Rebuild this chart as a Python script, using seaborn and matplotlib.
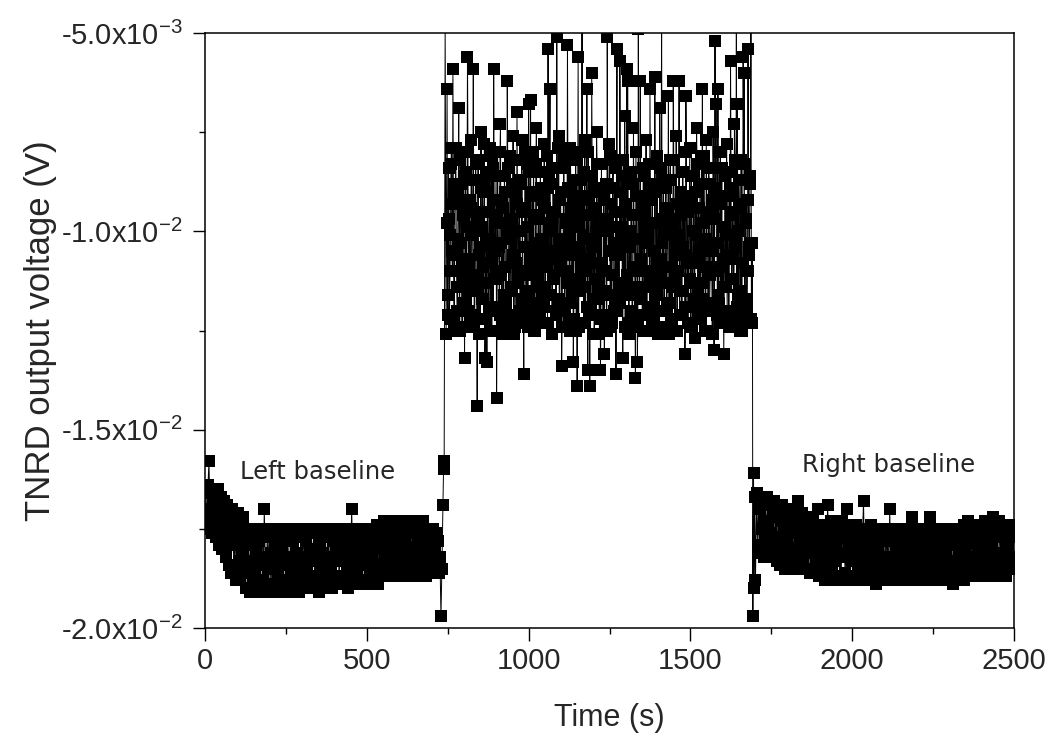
import numpy as np
import pandas as pd
import matplotlib
matplotlib.use("Agg")
import matplotlib.pyplot as plt
import seaborn as sns

# ---------------- data (voltages in mV, converted to V below) ----------------
# Left baseline, sampled every 3 s from 0 s to 726 s
left_t0, left_dt = 0, 3
left_mv = [
    -17.2, -16.6, -17.5, -16.4, -15.8, -17.0, -16.5, -17.6, -16.8, -17.3,
    -16.6, -17.7, -17.0, -16.5, -17.9, -17.2, -16.7, -18.0, -17.4, -16.8,
    -17.8, -17.1, -18.2, -16.9, -17.6, -18.4, -17.2, -18.6, -17.0, -17.9,
    -18.5, -17.3, -18.8, -17.6, -17.1, -18.3, -18.7, -17.5, -18.1, -17.2,
    -18.6, -17.8, -19.0, -17.5, -18.4, -17.9, -19.1, -17.6, -18.3, -18.9,
    -17.5, -18.7, -18.1, -19.0, -17.6, -18.4, -17.8, -19.1, -18.2, -17.5,
    -18.8, -17.0, -18.3, -19.0, -17.7, -18.5, -17.5, -18.9, -18.1, -19.1,
    -17.6, -18.4, -17.9, -19.0, -17.5, -18.7, -18.2, -17.6, -19.1, -18.0,
    -17.8, -18.9, -17.5, -18.4, -19.1, -17.7, -18.2, -18.8, -17.5, -18.6,
    -19.0, -17.8, -18.3, -17.5, -18.9, -18.1, -17.6, -19.1, -18.4, -17.7,
    -18.7, -17.5, -18.2, -19.0, -17.8, -18.5, -17.6, -18.9, -18.1, -17.5,
    -18.8, -18.0, -17.6, -19.0, -18.3, -17.5, -18.7, -19.1, -17.8, -18.4,
    -17.6, -18.9, -18.1, -17.5, -18.6, -19.0, -17.7, -18.3, -18.8, -17.5,
    -18.5, -19.0, -17.8, -18.2, -17.5, -18.9, -18.0, -17.6, -18.7, -18.3,
    -17.5, -18.8, -18.1, -17.7, -18.9, -17.5, -18.4, -19.0, -17.8, -18.2,
    -18.6, -17.0, -18.0, -17.5, -18.9, -18.3, -17.6, -18.7, -18.1, -17.5,
    -18.9, -17.8, -18.4, -17.5, -18.8, -18.0, -17.6, -18.9, -18.2, -17.5,
    -18.6, -17.9, -18.3, -17.5, -18.8, -17.7, -18.4, -17.4, -18.9, -18.0,
    -17.4, -18.5, -17.9, -18.7, -17.3, -18.2, -17.6, -18.6, -17.8, -18.4,
    -17.3, -18.7, -18.0, -17.5, -18.5, -17.4, -18.2, -18.7, -17.6, -18.1,
    -17.3, -18.6, -17.8, -18.3, -17.4, -18.7, -17.9, -17.3, -18.5, -18.0,
    -17.5, -18.7, -17.6, -18.2, -17.3, -18.6, -18.0, -17.5, -18.4, -17.7,
    -18.7, -17.4, -18.1, -17.6, -18.6, -17.3, -18.3, -17.9, -18.7, -17.5,
    -18.2, -17.6, -18.6, -17.7, -18.4, -17.5, -18.5, -18.0, -17.6, -18.3,
    -17.8, -18.6, -18.2,
]

# Switch-on transition
on_t = [729, 732, 735, 737, 739, 742]
on_mv = [-19.7, -18.5, -16.9, -16.0, -15.8, -4.8]

# Active period, readings at 745 s + 3 s steps ...
active_t0, active_dt = 745, 3
active_mv = [
    -12.6, -6.4, -12.1, -9.7, -11.0, -8.3, -10.5, -5.9, -12.3, -9.1,
    -7.9, -11.4, -10.2, -6.9, -12.5, -8.8, -10.9, -9.4, -11.8, -13.2,
    -8.5, -10.7, -5.6, -12.0, -9.2, -11.3, -7.7, -10.1, -5.9, -12.4,
    -9.5, -11.1, -14.4, -8.2, -10.6, -12.2, -7.5, -9.9, -11.7, -8.7,
    -13.2, -10.3, -13.3, -9.0, -11.9, -7.9, -10.8, -12.5, -8.4, -5.9,
    -11.2, -9.6, -14.2, -8.0, -10.4, -12.1, -7.3, -11.0, -9.3, -12.6,
    -8.6, -10.9, -11.6, -6.2, -9.8, -12.3, -8.1, -10.2, -11.5, -7.6,
    -10.7, -12.4, -9.1, -7.0, -11.3, -8.8, -12.0, -10.0, -7.7, -11.8,
    -13.6, -9.4, -11.1, -8.3, -12.2, -6.8, -10.6, -6.7, -11.9, -9.0,
    -8.0, -12.5, -10.3, -7.4, -11.4, -9.7, -12.1, -8.5, -10.9, -11.7,
    -9.2, -7.8, -12.3, -10.5, -8.9, -5.4, -11.6, -6.4, -10.0, -12.6,
    -8.4, -11.2, -9.5, -12.0, -5.1, -10.7, -7.6, -11.8, -9.0, -13.4,
    -10.2, -8.1, -12.4, -9.8, -11.0, -5.3, -10.6, -12.2, -7.9, -9.4,
    -11.5, -13.3, -8.7, -10.4, -12.5, -13.9, -5.6, -9.6, -11.2, -8.0,
    -4.8, -10.1, -12.3, -7.7, -11.0, -6.4, -13.5, -9.2, -13.9, -10.8,
    -6.0, -11.7, -8.9, -12.1, -10.3, -7.5, -11.4, -9.0, -12.6, -13.5,
    -8.3, -10.9, -12.2, -13.1, -9.7, -11.5, -5.1, -10.0, -7.8, -12.4,
    -9.3, -11.1, -8.2, -12.0, -10.6, -13.6, -5.4, -9.9, -11.8, -5.7,
    -10.4, -8.6, -13.2, -11.3, -7.1, -9.5, -5.9, -6.2, -12.3, -10.0,
    -11.6, -8.8, -12.4, -7.4, -10.2, -13.7, -9.1, -13.3, -4.9, -11.0,
    -6.2, -10.8, -12.1, -8.4, -11.4, -9.6, -7.7, -12.5, -10.3, -8.9,
    -6.4, -11.9, -9.2, -12.2, -10.5, -6.1, -11.1, -8.3, -12.6, -9.8,
    -6.9, -10.7, -4.8, -12.0, -8.7, -11.3, -9.4, -12.4, -10.1, -6.6,
    -11.8, -8.2, -10.9, -12.3, -6.2, -9.7, -11.2, -7.6, -12.5, -10.4,
    -6.2, -11.5, -9.0, -12.1, -8.5, -10.6, -13.1, -6.6, -11.9, -9.5,
    -10.8, -7.9, -12.4, -9.2, -11.3, -8.6, -12.7, -10.1, -7.4, -11.6,
    -9.4, -12.2, -10.5, -8.1, -6.4, -11.7, -9.8, -12.5, -7.7, -10.9,
    -12.0, -8.8, -11.1, -9.6, -12.6, -7.5, -13.0, -5.2, -6.8, -10.3,
    -6.4, -11.8, -9.1, -12.3, -8.4, -10.7, -13.1, -9.9, -11.4, -7.8,
    -10.6, -12.4, -8.9, -5.7, -11.2, -9.5, -12.1, -7.3, -10.2, -4.8,
    -6.8, -11.6, -9.3, -12.5, -8.2, -10.8, -5.6, -6.0, -11.9, -9.7,
    -12.2, -5.4, -10.4, -8.6, -4.8, -12.3,
]
# ... and the readings in between, at 746.5 s + 3 s steps
active_mid_t0, active_mid_dt = 746.5, 3
active_mid_mv = [
    -9.8, -11.6, -8.4, -12.2, -10.1, -7.9, -11.0, -9.3, -12.5, -8.8,
    -10.6, -12.0, -9.1, -11.4, -8.2, -10.3, -12.4, -9.6, -11.1, -8.6,
    -11.8, -9.9, -8.0, -10.8, -12.3, -9.4, -11.5, -8.7, -10.0, -12.1,
    -8.3, -11.2, -9.7, -12.6, -10.4, -8.9, -11.7, -9.0, -10.9, -7.8,
    -12.2, -10.2, -8.5, -11.3, -9.5, -12.5, -8.1, -10.7, -11.9, -9.2,
    -10.5, -8.6, -12.0, -9.8, -11.1, -8.0, -10.3, -12.4, -9.4, -11.6,
    -9.0, -11.9, -10.1, -8.4, -12.2, -9.7, -11.4, -8.8, -10.6, -12.6,
    -8.2, -10.8, -12.1, -9.3, -11.0, -8.7, -12.3, -10.0, -9.5, -11.7,
    -10.4, -8.0, -11.5, -9.9, -12.4, -8.5, -10.9, -11.8, -9.1, -12.0,
    -9.6, -12.5, -8.3, -10.6, -11.2, -9.0, -12.2, -8.9, -10.2, -11.4,
    -11.9, -9.4, -10.7, -8.1, -12.3, -10.0, -8.6, -11.6, -9.8, -12.6,
    -8.8, -11.1, -9.5, -12.1, -10.5, -7.9, -11.7, -9.2, -10.8, -12.4,
    -10.3, -8.4, -12.0, -9.7, -11.3, -8.9, -10.1, -12.5, -9.0, -11.8,
    -9.3, -12.2, -10.6, -8.2, -11.5, -9.9, -12.4, -8.7, -10.9, -11.0,
    -11.4, -9.1, -8.5, -12.3, -10.2, -11.9, -8.0, -10.7, -9.6, -12.0,
    -8.6, -10.4, -12.6, -9.4, -11.2, -8.3, -10.0, -11.7, -9.8, -12.2,
    -10.8, -12.1, -9.2, -11.0, -8.8, -12.5, -9.7, -10.5, -8.1, -11.6,
    -12.3, -8.9, -10.3, -11.8, -9.5, -8.4, -12.0, -10.6, -11.3, -9.0,
    -9.9, -11.5, -8.2, -10.1, -12.4, -9.3, -11.1, -8.7, -12.6, -10.4,
    -8.5, -12.0, -10.9, -9.6, -11.4, -8.0, -10.2, -12.2, -9.1, -11.7,
    -10.7, -9.4, -12.5, -8.6, -11.0, -9.8, -12.1, -10.0, -8.3, -11.9,
    -9.2, -11.3, -8.8, -12.3, -10.5, -9.0, -11.6, -8.1, -10.8, -12.4,
    -11.1, -8.4, -10.3, -9.7, -12.0, -10.9, -8.9, -11.8, -9.5, -12.6,
    -8.7, -12.2, -9.9, -11.4, -8.2, -10.6, -12.5, -9.3, -11.0, -10.1,
    -12.1, -9.6, -11.5, -8.5, -10.4, -9.1, -11.9, -8.0, -10.7, -12.3,
    -9.4, -11.2, -8.6, -12.4, -10.0, -11.7, -9.0, -10.8, -8.3, -12.0,
    -10.6, -8.8, -12.2, -9.8, -11.3, -8.1, -10.2, -12.5, -9.5, -11.1,
    -8.4, -11.8, -10.5, -9.2, -12.6, -8.9, -11.0, -9.7, -10.3, -12.1,
    -11.6, -9.3, -8.0, -10.9, -12.3, -9.9, -11.4, -8.6, -10.1, -12.0,
    -9.1, -12.4, -10.7, -8.5, -11.2, -9.6, -12.2, -8.2, -10.4, -11.9,
    -10.0, -8.7, -11.5, -9.4, -12.5, -10.8, -8.3, -11.7, -9.8, -12.1,
    -11.0, -9.2, -10.6, -8.8, -12.2, -10.3,
]

# Switch-off transition
off_t = [1693, 1695, 1697, 1699, 1701]
off_mv = [-19.7, -16.1, -19.0, -16.7, -18.8]

# Right baseline, sampled every 3 s from 1705 s to 2497 s
right_t0, right_dt = 1705, 3
right_mv = [
    -16.6, -17.9, -17.0, -18.1, -16.8, -17.5, -16.7, -18.2, -17.3, -16.9,
    -17.8, -16.7, -17.4, -18.2, -16.9, -17.6, -18.0, -17.1, -16.8, -17.9,
    -17.2, -18.3, -17.0, -17.7, -18.4, -17.3, -16.9, -18.1, -17.5, -18.5,
    -17.1, -17.8, -18.4, -17.3, -18.0, -17.0, -18.5, -17.6, -18.2, -17.4,
    -18.3, -17.5, -18.0, -16.8, -17.3, -18.5, -17.7, -17.1, -18.4, -17.6,
    -17.9, -18.5, -17.2, -18.1, -17.6, -18.6, -17.4, -18.0, -17.3, -18.6,
    -17.8, -18.3, -17.5, -17.0, -18.7, -17.9, -17.4, -18.5, -18.0, -17.6,
    -18.8, -17.4, -18.2, -16.9, -17.7, -18.6, -17.3, -18.4, -17.9, -18.7,
    -17.5, -18.3, -17.8, -18.8, -17.4, -18.1, -17.6, -18.7, -17.3, -18.2,
    -17.7, -18.6, -18.1, -17.0, -17.5, -18.8, -17.9, -17.4, -18.3, -18.7,
    -17.6, -18.2, -17.4, -18.8, -17.9, -18.4, -17.5, -18.7, -18.0, -17.6,
    -16.8, -18.3, -17.7, -18.8, -17.5, -18.2, -17.9, -18.6, -17.4, -18.4,
    -17.8, -18.7, -17.5, -18.9, -18.1, -17.6, -18.5, -17.8, -18.8, -17.5,
    -18.3, -17.7, -18.7, -17.5, -18.2, -17.8, -18.6, -17.0, -18.4, -17.6,
    -18.8, -17.6, -18.2, -17.9, -18.6, -17.5, -18.4, -18.8, -17.7, -18.1,
    -17.5, -18.7, -18.0, -17.6, -18.5, -17.8, -18.8, -17.5, -18.3, -17.9,
    -17.2, -18.4, -17.7, -18.8, -18.0, -17.5, -18.6, -17.9, -18.3, -17.6,
    -18.7, -17.8, -18.2, -17.5, -18.8, -18.0, -17.6, -18.5, -17.9, -17.2,
    -18.4, -17.7, -18.8, -17.5, -18.2, -17.9, -18.6, -17.6, -18.4, -18.8,
    -17.6, -18.3, -17.9, -18.7, -17.5, -18.1, -18.8, -17.7, -18.4, -17.5,
    -18.6, -17.8, -18.9, -17.6, -18.3, -17.9, -18.7, -17.5, -18.2, -18.6,
    -17.6, -18.4, -17.9, -18.8, -17.4, -18.1, -17.7, -18.6, -17.3, -18.3,
    -18.7, -17.6, -18.2, -17.4, -18.5, -17.8, -18.7, -17.5, -18.1, -17.9,
    -18.6, -17.4, -18.3, -17.7, -18.5, -17.3, -18.0, -18.7, -17.6, -18.2,
    -17.5, -18.6, -17.8, -17.2, -18.4, -17.6, -18.7, -17.4, -18.1, -18.5,
    -17.3, -18.2, -17.7, -18.6, -17.4, -18.3, -17.6, -18.7, -17.5, -18.0,
    -18.5, -17.4, -18.2, -17.7, -18.4,
]

x_ticks = [0, 500, 1000, 1500, 2000, 2500]
y_ticks = [-0.020, -0.015, -0.010, -0.005]
y_tick_labels = ["-2.0x10$^{-2}$", "-1.5x10$^{-2}$", "-1.0x10$^{-2}$", "-5.0x10$^{-3}$"]
annotations = ["Left baseline", "Right baseline"]
annotation_t = [349, 2111]
annotation_mv = [-16.07, -15.89]

# ---------------- assemble ----------------
def seg(t0, dt, vals):
    return t0 + dt * np.arange(len(vals)), np.asarray(vals, float)

parts = [
    seg(left_t0, left_dt, left_mv),
    (np.asarray(on_t, float), np.asarray(on_mv, float)),
    seg(active_t0, active_dt, active_mv),
    seg(active_mid_t0, active_mid_dt, active_mid_mv),
    (np.asarray(off_t, float), np.asarray(off_mv, float)),
    seg(right_t0, right_dt, right_mv),
]
t_all = np.concatenate([p[0] for p in parts])
v_all = np.concatenate([p[1] for p in parts]) * 1e-3
df = pd.DataFrame({"Time": t_all, "Voltage": v_all}).sort_values("Time")

# ---------------- plot ----------------
sns.set_style("ticks")
plt.rcParams["font.family"] = ["Liberation Sans", "DejaVu Sans"]
plt.rcParams["mathtext.fontset"] = "custom"
plt.rcParams["mathtext.rm"] = "Liberation Sans"
plt.rcParams["mathtext.it"] = "Liberation Sans"
plt.rcParams["mathtext.default"] = "regular"

fig = plt.figure(figsize=(10.57, 7.38), dpi=100)
ax = fig.add_axes([0.194, 0.149, 0.7653, 0.8063])

sns.lineplot(data=df, x="Time", y="Voltage", ax=ax, sort=False,
             estimator=None, color="black", linewidth=0.7,
             marker="s", markersize=8.8, markeredgewidth=0,
             markerfacecolor="black")

ax.set_xlim(0, 2500)
ax.set_ylim(-0.020, -0.005)
ax.set_xticks(x_ticks)
ax.set_xticklabels([str(v) for v in x_ticks])
ax.set_yticks(y_ticks)
ax.set_yticklabels(y_tick_labels)
ax.set_xticks(np.arange(250, 2500, 500), minor=True)
ax.set_yticks([-0.0175, -0.0125, -0.0075], minor=True)

ax.tick_params(axis="both", which="major", direction="out", length=9,
               width=1.0, labelsize=21, color="black", pad=5)
ax.tick_params(axis="y", which="major", pad=7)
ax.tick_params(axis="both", which="minor", direction="out", length=4.5,
               width=1.0, color="black")
ax.tick_params(top=False, right=False, which="both")
for s in ax.spines.values():
    s.set_visible(True)
    s.set_linewidth(1.1)
    s.set_color("black")

ax.set_xlabel("Time (s)", fontsize=22, labelpad=20)
ax.set_ylabel("TNRD output voltage (V)", fontsize=25, labelpad=3)

for txt, tx, ty in zip(annotations, annotation_t, annotation_mv):
    ax.text(tx, ty * 1e-3, txt, family="DejaVu Sans", fontsize=17.5,
            ha="center", va="center")

fig.savefig("out.png", dpi=100)
